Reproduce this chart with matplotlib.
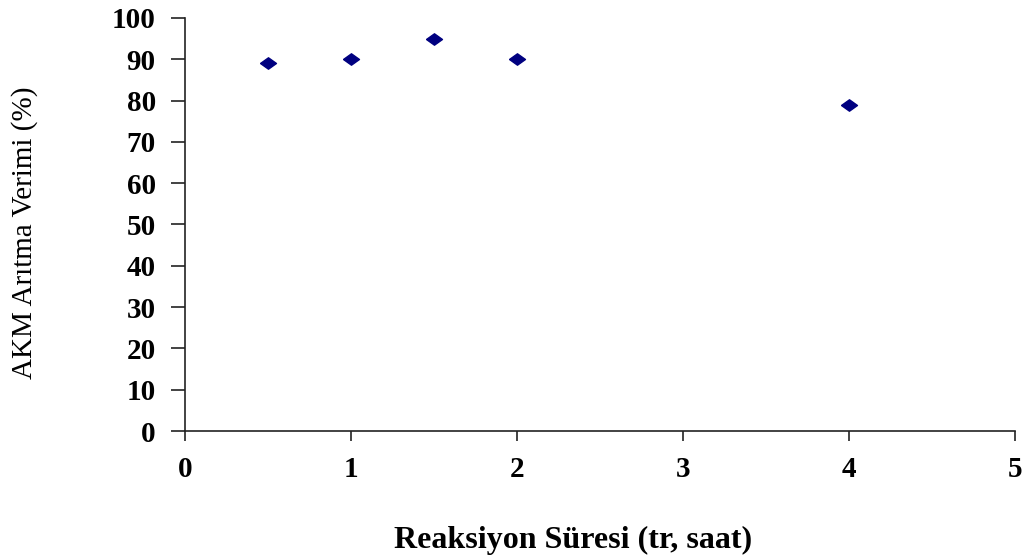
import matplotlib
matplotlib.use("Agg")
import matplotlib.pyplot as plt

# Reaction time (h) vs. AKM removal efficiency (%)
sure = [0.5, 1, 1.5, 2, 4]
verim = [89, 90, 95, 90, 79]

plt.rcParams['font.family'] = ['Liberation Serif', 'DejaVu Serif']

fig = plt.figure(figsize=(10.29, 5.57), dpi=100)
ax = fig.add_axes([0.1798, 0.2262, 0.8066, 0.7415])

# wide diamond marker
elmas = [(-1.4, 0), (0, 1), (1.4, 0), (0, -1), (-1.4, 0)]
ax.plot(sure, verim, linestyle='none', marker=elmas, ms=11.5,
        color='#000080', mec='#000080')

ax.set_xlim(0, 5)
ax.set_ylim(0, 100)
ax.set_xticks(range(0, 6))
ax.set_yticks(range(0, 101, 10))

for s in ['top', 'right']:
    ax.spines[s].set_visible(False)
for s in ['left', 'bottom']:
    ax.spines[s].set_linewidth(1.2)
    ax.spines[s].set_color('#222222')

ax.tick_params(axis='y', direction='out', length=10, width=1.2, pad=11,
               labelsize=21, color='#222222')
ax.tick_params(axis='x', direction='out', length=7, width=1.2, pad=11,
               labelsize=21, color='#222222')
for lab in ax.get_xticklabels() + ax.get_yticklabels():
    lab.set_fontweight('bold')

ax.set_xlabel('Reaksiyon Süresi (tr, saat)', fontsize=23, fontweight='bold')
ax.xaxis.set_label_coords(0.467, -0.264)
ax.xaxis.label.set_va('center')
ax.set_ylabel('AKM Arıtma Verimi (%)', fontsize=21)
ax.yaxis.set_label_coords(-0.193, 0.48)
ax.yaxis.label.set_va('center')

fig.savefig('out.png', dpi=100)
